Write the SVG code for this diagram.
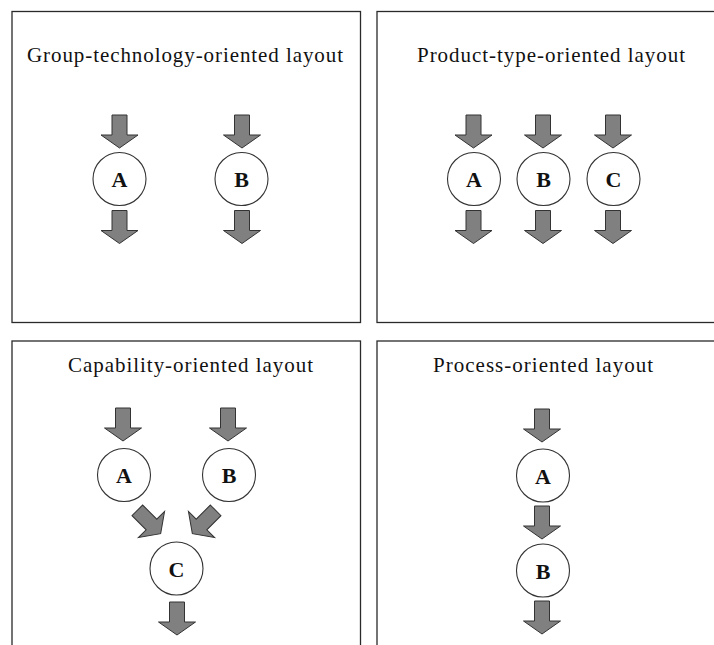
<svg xmlns="http://www.w3.org/2000/svg" width="714" height="645" viewBox="0 0 714 645">
  <style>
    .panel { fill: #ffffff; stroke: #2a2a2a; stroke-width: 1.3; }
    .title { font-family: "Liberation Serif", "Times New Roman", serif; font-size: 21px; fill: #111; }
    .node circle { fill: #ffffff; stroke: #333; stroke-width: 1.1; }
    .node text { font-family: "Liberation Serif", "Times New Roman", serif; font-weight: bold; font-size: 22px; fill: #111; text-anchor: middle; }
    .flow { fill: #808080; stroke: #333; stroke-width: 1; stroke-linejoin: miter; }
  </style>
  <defs>
    <!-- block arrow pointing down, centred on the origin -->
    <path id="arrow" d="M-7.5,-16.5 H7.5 V3.5 H18.5 L0,16.5 L-18.5,3.5 H-7.5 Z"/>
  </defs>

  <rect width="714" height="645" fill="#ffffff"/>

  <!-- panel frames and titles -->
  <g id="panel-group-technology">
    <rect class="panel" x="12" y="11.5" width="348.5" height="311"/>
    <text class="title" x="27" y="62" textLength="316" lengthAdjust="spacing">Group-technology-oriented layout</text>
  </g>
  <g id="panel-product-type">
    <rect class="panel" x="377" y="11.5" width="345" height="311"/>
    <text class="title" x="417" y="62" textLength="268" lengthAdjust="spacing">Product-type-oriented layout</text>
  </g>
  <g id="panel-capability">
    <rect class="panel" x="12" y="341" width="348.5" height="315"/>
    <text class="title" x="68" y="372" textLength="245" lengthAdjust="spacing">Capability-oriented layout</text>
  </g>
  <g id="panel-process">
    <rect class="panel" x="377" y="341" width="345" height="315"/>
    <text class="title" x="433" y="372" textLength="220" lengthAdjust="spacing">Process-oriented layout</text>
  </g>

  <!-- flow arrows -->
  <g id="connectors" class="flow">
    <!-- group-technology -->
    <use href="#arrow" transform="translate(119.5,131.5)"/>
    <use href="#arrow" transform="translate(119.5,227)"/>
    <use href="#arrow" transform="translate(242,131.5)"/>
    <use href="#arrow" transform="translate(242,227)"/>
    <!-- product-type -->
    <use href="#arrow" transform="translate(473.5,131.5)"/>
    <use href="#arrow" transform="translate(473.5,227)"/>
    <use href="#arrow" transform="translate(543,131.5)"/>
    <use href="#arrow" transform="translate(543,227)"/>
    <use href="#arrow" transform="translate(613,131.5)"/>
    <use href="#arrow" transform="translate(613,227)"/>
    <!-- capability -->
    <use href="#arrow" transform="translate(123,424.5)"/>
    <use href="#arrow" transform="translate(228,424.5)"/>
    <use href="#arrow" transform="translate(149,522) rotate(-45)"/>
    <use href="#arrow" transform="translate(204,522) rotate(45)"/>
    <use href="#arrow" transform="translate(177,618.5)"/>
    <!-- process -->
    <use href="#arrow" transform="translate(542,425.5)"/>
    <use href="#arrow" transform="translate(542,522.5)"/>
    <use href="#arrow" transform="translate(542,617.5)"/>
  </g>

  <!-- machines -->
  <g id="gt-A" class="node"><circle cx="119.5" cy="179" r="26.5"/><text x="119.5" y="187">A</text></g>
  <g id="gt-B" class="node"><circle cx="241.5" cy="179" r="26.5"/><text x="241.5" y="187">B</text></g>

  <g id="pt-A" class="node"><circle cx="474" cy="179" r="26.5"/><text x="474" y="187">A</text></g>
  <g id="pt-B" class="node"><circle cx="543.5" cy="179" r="26.5"/><text x="543.5" y="187">B</text></g>
  <g id="pt-C" class="node"><circle cx="613.5" cy="179" r="26.5"/><text x="613.5" y="187">C</text></g>

  <g id="cap-A" class="node"><circle cx="124" cy="475" r="26.5"/><text x="124" y="483">A</text></g>
  <g id="cap-B" class="node"><circle cx="229" cy="475" r="26.5"/><text x="229" y="483">B</text></g>
  <g id="cap-C" class="node"><circle cx="176.5" cy="568.5" r="26.5"/><text x="176.5" y="576.5">C</text></g>

  <g id="proc-A" class="node"><circle cx="543" cy="475.5" r="26.5"/><text x="543" y="483.5">A</text></g>
  <g id="proc-B" class="node"><circle cx="543" cy="570.5" r="26.5"/><text x="543" y="578.5">B</text></g>
</svg>
